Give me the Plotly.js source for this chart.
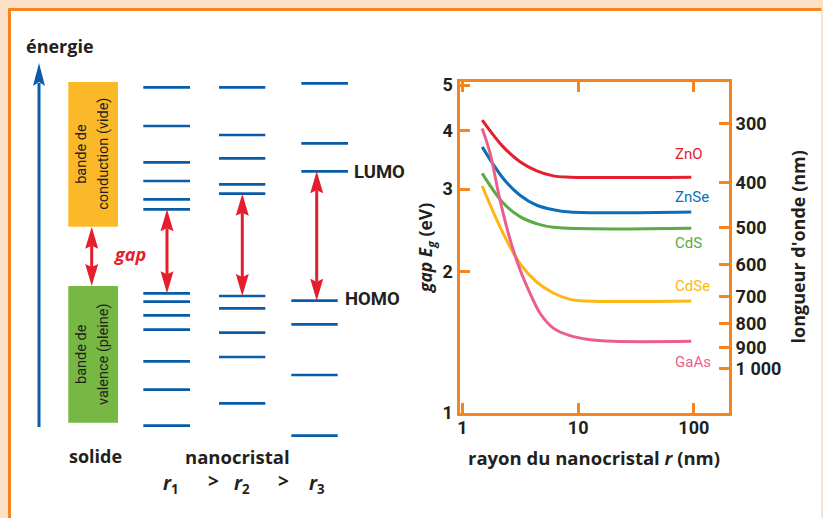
<!DOCTYPE html>
<html>
<head>
<meta charset="utf-8">
<script src="https://cdn.plot.ly/plotly-3.0.1.min.js"></script>
<style>html,body{margin:0;padding:0;background:#fff;}#chart{width:823px;height:518px;}</style>
</head>
<body>
<div id="chart"></div>
<script>
// ---------- DATA: gap vs nanocrystal radius ----------
const materials = ['ZnO', 'ZnSe', 'CdS', 'CdSe', 'GaAs'];
const rZnO  = [1.48, 2.25, 3.14, 4.38, 6.1, 8.5, 95];
const eZnO  = [4.21, 3.69, 3.43, 3.28, 3.20, 3.18, 3.18];
const rZnSe = [1.48, 2.25, 3.14, 4.38, 6.1, 8.5, 95];
const eZnSe = [3.69, 3.16, 2.91, 2.77, 2.71, 2.68, 2.68];
const rCdS  = [1.48, 2.25, 3.14, 4.38, 6.1, 95];
const eCdS  = [3.24, 2.80, 2.62, 2.53, 2.485, 2.475];
const rCdSe = [1.48, 2.25, 3.14, 4.38, 6.1, 8.5, 12, 95];
const eCdSe = [3.045, 2.41, 2.08, 1.90, 1.80, 1.745, 1.73, 1.73];
const rGaAs = [1.48, 1.73, 2.11, 2.58, 3.14, 3.83, 4.68, 6.1, 8.5, 11.9, 20, 95];
const eGaAs = [4.04, 3.58, 2.84, 2.34, 2.02, 1.80, 1.63, 1.515, 1.46, 1.435, 1.42, 1.42];

const xTickVals = [1, 10, 100];
const xTickText = ['1', '10', '100'];
const yTickVals = [1, 2, 3, 4, 5];
const yTickText = ['1', '2', '3', '4', '5'];
const lambdaTicks = [300, 400, 500, 600, 700, 800, 900, 1000];
const lambdaText  = ['300', '400', '500', '600', '700', '800', '900', '1 000'];

// ---------- DATA: schematic energy levels (arbitrary energy units) ----------
const bandConduction = [291.3, 436];   // solide: bande de conduction (bas, haut)
const bandValence    = [95.3, 232];    // solide: bande de valence (bas, haut)
const r1Conduction = [430.7, 392, 355.7, 337, 318.7, 308.7];
const r1Valence    = [224.7, 216.3, 202.7, 188.3, 156.7, 128.3, 92.3];
const r2Conduction = [430.7, 383, 359.7, 333.7, 324.3];
const r2Valence    = [222, 209.7, 185.3, 161, 114.7];
const r3Conduction = [434.7, 374.7, 346.7];
const r3Valence    = [217.3, 193.7, 143, 82.3];
const energyAxis   = [91, 455];

// ---------- STYLE / LAYOUT CONSTANTS ----------
const W = 823, H = 518;
const FONT = 'Roboto, "DejaVu Sans", sans-serif';
const WIDE = '"Open Sans", Roboto, sans-serif';
const DARK = '#231f20';
const ORANGE = '#f5861f';
const BLUE = '#0a5ca8';
const RED = '#e41e2b';
const colors = {ZnO: '#e4202c', ZnSe: '#0a6fb8', CdS: '#5aab46', CdSe: '#fdb614', GaAs: '#ec5e8c'};
const series = {ZnO: [rZnO, eZnO], ZnSe: [rZnSe, eZnSe], CdS: [rCdS, eCdS], CdSe: [rCdSe, eCdSe], GaAs: [rGaAs, eGaAs]};
const labelPos = {ZnO: [673, 154], ZnSe: [673, 197.5], CdS: [673, 243], CdSe: [673, 286], GaAs: [673, 361.5]};

const colLayout = {
  r1: {cond: [143.3, 190], val: [143.3, 190], arrowX: 167},
  r2: {cond: [219, 265.3], val: [219, 265.3], arrowX: 242.3},
  r3: {cond: [301.3, 348], val: [291.3, 337.7], arrowX: 316.7}
};
const bandX = [68.3, 118], solidArrowX = 91.7, energyX = 39;

const px = x => x / W;
const py = y => 1 - y / H;

// plot box in pixels
const box = {l: 459.5, r: 729, t: 82, b: 412.7};

const traces = [];
materials.forEach(m => {
  traces.push({
    x: series[m][0], y: series[m][1], type: 'scatter', mode: 'lines', name: m,
    line: {color: colors[m], width: 3, shape: 'spline', smoothing: 1},
    xaxis: 'x', yaxis: 'y', hoverinfo: 'skip'
  });
});
// invisible trace to activate the right axis
traces.push({x: [10], y: [2], type: 'scatter', mode: 'markers', marker: {opacity: 0}, xaxis: 'x', yaxis: 'y2', hoverinfo: 'skip', showlegend: false});

function levelTrace(levels, xr) {
  const xs = [], ys = [];
  levels.forEach(e => { xs.push(xr[0], xr[1], null); ys.push(e, e, null); });
  return {x: xs, y: ys, type: 'scatter', mode: 'lines', line: {color: BLUE, width: 2.7},
          xaxis: 'x3', yaxis: 'y3', hoverinfo: 'skip', showlegend: false};
}
traces.push(levelTrace(r1Conduction, colLayout.r1.cond));
traces.push(levelTrace(r1Valence, colLayout.r1.val));
traces.push(levelTrace(r2Conduction, colLayout.r2.cond));
traces.push(levelTrace(r2Valence, colLayout.r2.val));
traces.push(levelTrace(r3Conduction, colLayout.r3.cond));
traces.push(levelTrace(r3Valence, colLayout.r3.val));

// ---------- shapes ----------
const shapes = [];
// frame
shapes.push({type: 'rect', xref: 'paper', yref: 'paper', x0: 0, x1: 1, y0: 0, y1: 1, fillcolor: '#fde1c6', line: {width: 0}, layer: 'below'});
shapes.push({type: 'rect', xref: 'paper', yref: 'paper', x0: px(10.5), x1: px(821), y0: 0, y1: py(10.5), fillcolor: '#ffffff', line: {width: 0}, layer: 'below'});
shapes.push({type: 'line', xref: 'paper', yref: 'paper', x0: px(8), x1: px(821.5), y0: py(9.5), y1: py(9.5), line: {color: ORANGE, width: 3}, layer: 'below'});
shapes.push({type: 'line', xref: 'paper', yref: 'paper', x0: px(9.5), x1: px(9.5), y0: 0, y1: py(8), line: {color: ORANGE, width: 3}, layer: 'below'});
// bands
shapes.push({type: 'rect', xref: 'x3', yref: 'y3', x0: bandX[0], x1: bandX[1], y0: bandConduction[0], y1: bandConduction[1], fillcolor: '#fbb829', line: {width: 0}, layer: 'below'});
shapes.push({type: 'rect', xref: 'x3', yref: 'y3', x0: bandX[0], x1: bandX[1], y0: bandValence[0], y1: bandValence[1], fillcolor: '#76b843', line: {width: 0}, layer: 'below'});

function head(x, tip, dir, w, len, notch, color) {
  const b = tip - dir * len, n = tip - dir * (len - notch);
  return {type: 'path', xref: 'x3', yref: 'y3',
    path: `M${x},${tip} L${x - w / 2},${b} L${x},${n} L${x + w / 2},${b} Z`,
    fillcolor: color, line: {width: 0}, layer: 'above'};
}
function doubleArrow(x, lo, hi, color) {
  const len = 22, w = 13, notch = 3;
  shapes.push({type: 'line', xref: 'x3', yref: 'y3', x0: x, x1: x, y0: lo + len - notch, y1: hi - len + notch, line: {color: color, width: 3}, layer: 'above'});
  shapes.push(head(x, hi, 1, w, len, notch, color));
  shapes.push(head(x, lo, -1, w, len, notch, color));
}
doubleArrow(solidArrowX, bandValence[1], bandConduction[0], RED);
doubleArrow(colLayout.r1.arrowX, Math.max(...r1Valence), Math.min(...r1Conduction), RED);
doubleArrow(colLayout.r2.arrowX, Math.max(...r2Valence), Math.min(...r2Conduction), RED);
doubleArrow(colLayout.r3.arrowX, Math.max(...r3Valence), Math.min(...r3Conduction), RED);
// energy axis arrow
shapes.push({type: 'line', xref: 'x3', yref: 'y3', x0: energyX, x1: energyX, y0: energyAxis[0], y1: energyAxis[1] - 20, line: {color: BLUE, width: 3}, layer: 'above'});
shapes.push(head(energyX, energyAxis[1], 1, 12, 23, 4, BLUE));

// ---------- annotations ----------
const ann = [];
function txt(text, x, y, opts) {
  const o = Object.assign({size: 17, weight: 'bold', color: DARK, xanchor: 'center', yanchor: 'middle', angle: 0, style: 'normal', family: WIDE}, opts || {});
  ann.push({text: text, xref: 'paper', yref: 'paper', x: px(x), y: py(y), showarrow: false,
    xanchor: o.xanchor, yanchor: o.yanchor, textangle: o.angle,
    font: {family: o.family, size: o.size, color: o.color, weight: o.weight, style: o.style}});
}
txt('énergie', 24, 46, {xanchor: 'left', size: 18});
txt('bande de', 81.5, 154.3, {angle: -90, size: 14.5, weight: 'normal', family: FONT});
txt('conduction (vide)', 103.5, 154.3, {angle: -90, size: 14.5, weight: 'normal', family: FONT});
txt('bande de', 81.5, 354.5, {angle: -90, size: 14.5, weight: 'normal', family: FONT});
txt('valence (pleine)', 103.5, 354.5, {angle: -90, size: 14.5, weight: 'normal', family: FONT});
txt('gap', 129.5, 254, {color: RED, style: 'italic', size: 18});
txt('LUMO', 352, 171.5, {xanchor: 'left', size: 18.5, family: FONT});
txt('HOMO', 342.5, 299, {xanchor: 'left', size: 18.5, family: FONT});
txt('solide', 95, 456, {size: 18});
txt('nanocristal', 237.5, 456, {size: 18.5});
txt('<i>r</i><sub>1</sub>', 171, 484, {size: 19});
txt('>', 213, 481, {size: 19});
txt('<i>r</i><sub>2</sub>', 241.5, 484, {size: 19});
txt('>', 283, 481, {size: 19});
txt('<i>r</i><sub>3</sub>', 316.5, 484, {size: 19});
materials.forEach(m => txt(m, labelPos[m][0], labelPos[m][1], {xanchor: 'left', size: 15, weight: 'normal', color: colors[m], family: FONT}));
txt('<i>gap E<sub>g</sub></i> (eV)', 427, 248, {angle: -90, size: 17.5});
txt("longueur d'onde (nm)", 797.5, 247, {angle: -90, size: 18});
txt('rayon du nanocristal <i>r</i> (nm)', 594, 457, {size: 18.5});

// ---------- axes ----------
const lx0 = -0.026, lx1 = 2.304;
const yTopLog = Math.log10(5) + 0.0064;
const tickFont = {family: FONT, size: 18, color: DARK, weight: 'bold'};

const layout = {
  width: W, height: H,
  margin: {l: 0, r: 0, t: 0, b: 0, pad: 0},
  paper_bgcolor: '#ffffff', plot_bgcolor: 'rgba(0,0,0,0)',
  showlegend: false,
  xaxis: {type: 'log', domain: [px(box.l), px(box.r)], range: [lx0, lx1], anchor: 'y',
    showline: true, linecolor: ORANGE, linewidth: 3, mirror: 'ticks',
    ticks: 'inside', ticklen: 10, tickwidth: 3, tickcolor: ORANGE, ticklabelstandoff: -3,
    tickvals: xTickVals, ticktext: xTickText, tickfont: tickFont, showgrid: false, zeroline: false, fixedrange: true},
  yaxis: {type: 'log', domain: [py(box.b), py(box.t)], range: [0, yTopLog], anchor: 'x',
    showline: true, linecolor: ORANGE, linewidth: 3, mirror: false,
    ticks: 'inside', ticklen: 10, tickwidth: 3, tickcolor: ORANGE,
    tickvals: yTickVals, ticktext: yTickText, tickfont: tickFont, showgrid: false, zeroline: false, fixedrange: true},
  yaxis2: {type: 'log', overlaying: 'y', side: 'right', anchor: 'x', range: [0, yTopLog],
    showline: true, linecolor: ORANGE, linewidth: 3,
    ticks: 'inside', ticklen: 10, tickwidth: 3, tickcolor: ORANGE,
    tickvals: lambdaTicks.map(l => 1240 / l), ticktext: lambdaText, tickfont: tickFont,
    showgrid: false, zeroline: false, fixedrange: true},
  xaxis3: {domain: [0, 1], range: [0, W], anchor: 'y3', visible: false, fixedrange: true},
  yaxis3: {domain: [0, 1], range: [0, H], anchor: 'x3', visible: false, fixedrange: true},
  shapes: shapes,
  annotations: ann
};

Plotly.newPlot('chart', traces, layout, {staticPlot: true, displayModeBar: false});
</script>
</body>
</html>
